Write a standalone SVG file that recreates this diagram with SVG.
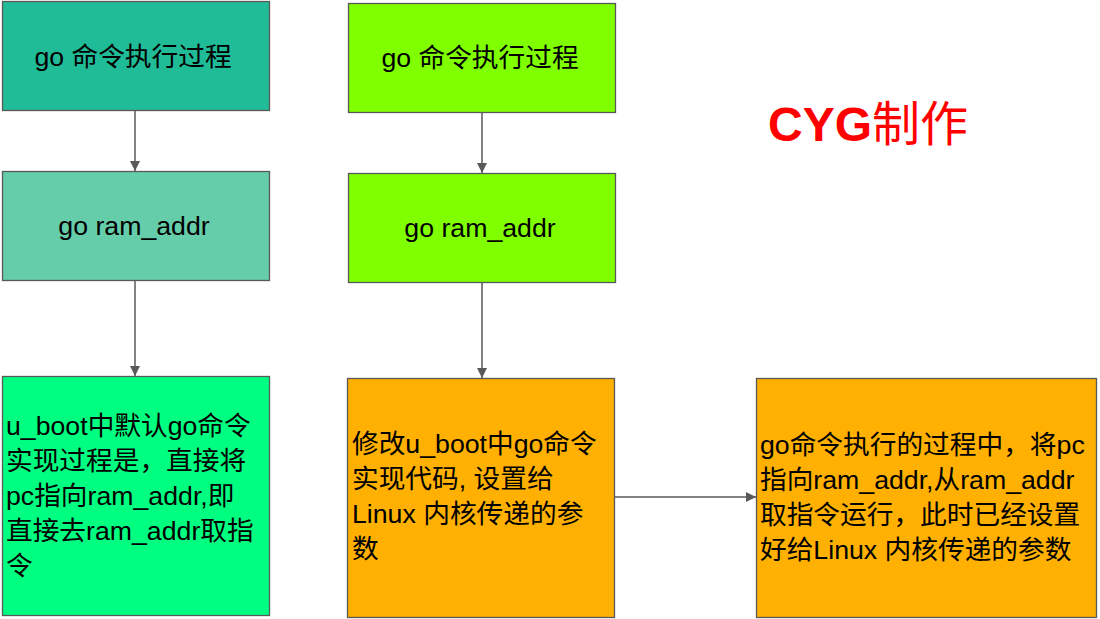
<svg xmlns="http://www.w3.org/2000/svg" width="1100" height="619" viewBox="0 0 1100 619">
<style>
.box{stroke:#595959;stroke-width:1.3}
.t{font-family:"Liberation Sans","Noto Sans CJK SC",sans-serif;font-size:26.7px;fill:#000}
.c{text-anchor:middle}
.conn{stroke:#595959;stroke-width:1.5;fill:none;marker-end:url(#ah)}
</style>
<defs>
<marker id="ah" viewBox="0 0 10 10" refX="10" refY="5" markerWidth="10" markerHeight="10" markerUnits="userSpaceOnUse" orient="auto">
<path d="M0,0 L10,5 L0,10 z" fill="#595959"/>
</marker>
</defs>
<rect width="1100" height="619" fill="#fff"/>
<g id="connectors">
<line class="conn" x1="135" y1="111" x2="135" y2="171"/>
<line class="conn" x1="135" y1="281" x2="135" y2="376"/>
<line class="conn" x1="482" y1="113" x2="482" y2="173"/>
<line class="conn" x1="482" y1="283" x2="482" y2="378"/>
<line class="conn" x1="614" y1="497" x2="756" y2="497"/>
</g>
<g id="n1">
<rect class="box" x="2.5" y="1.5" width="267" height="109" fill="#20BB97"/>
<text class="t c" x="133" y="66">go 命令执行过程</text>
</g>
<g id="n2">
<rect class="box" x="2.5" y="171.5" width="267" height="109" fill="#66CDAA"/>
<text class="t c" x="134" y="235">go ram_addr</text>
</g>
<g id="n3">
<rect class="box" x="2.5" y="376.5" width="267" height="239" fill="#00FF80"/>
<text class="t" x="6" y="435">u_boot中默认go命令</text>
<text class="t" x="6" y="470">实现过程是，直接将</text>
<text class="t" x="6" y="505">pc指向ram_addr,即</text>
<text class="t" x="6" y="540">直接去ram_addr取指</text>
<text class="t" x="6" y="575">令</text>
</g>
<g id="n4">
<rect class="box" x="348.5" y="3.5" width="267" height="109" fill="#80FF00"/>
<text class="t c" x="480" y="67">go 命令执行过程</text>
</g>
<g id="n5">
<rect class="box" x="348.5" y="173.5" width="267" height="109" fill="#80FF00"/>
<text class="t c" x="480" y="237">go ram_addr</text>
</g>
<g id="n6">
<rect class="box" x="347.5" y="378.5" width="267" height="239" fill="#FFB000"/>
<text class="t" x="352" y="453">修改u_boot中go命令</text>
<text class="t" x="352" y="488">实现代码, 设置给</text>
<text class="t" x="352" y="523">Linux 内核传递的参</text>
<text class="t" x="352" y="558">数</text>
</g>
<g id="n7">
<rect class="box" x="756.5" y="378.5" width="340" height="239" fill="#FFB000"/>
<text class="t" x="760" y="454">go命令执行的过程中，将pc</text>
<text class="t" x="760" y="489">指向ram_addr,从ram_addr</text>
<text class="t" x="760" y="524">取指令运行，此时已经设置</text>
<text class="t" x="760" y="559">好给Linux 内核传递的参数</text>
</g>
<g id="title">
<text x="768" y="141" font-family="Liberation Sans,'Noto Sans CJK SC',sans-serif" font-size="48" font-weight="bold" fill="#FF0000">CYG<tspan font-weight="normal">制作</tspan></text>
</g>
</svg>
